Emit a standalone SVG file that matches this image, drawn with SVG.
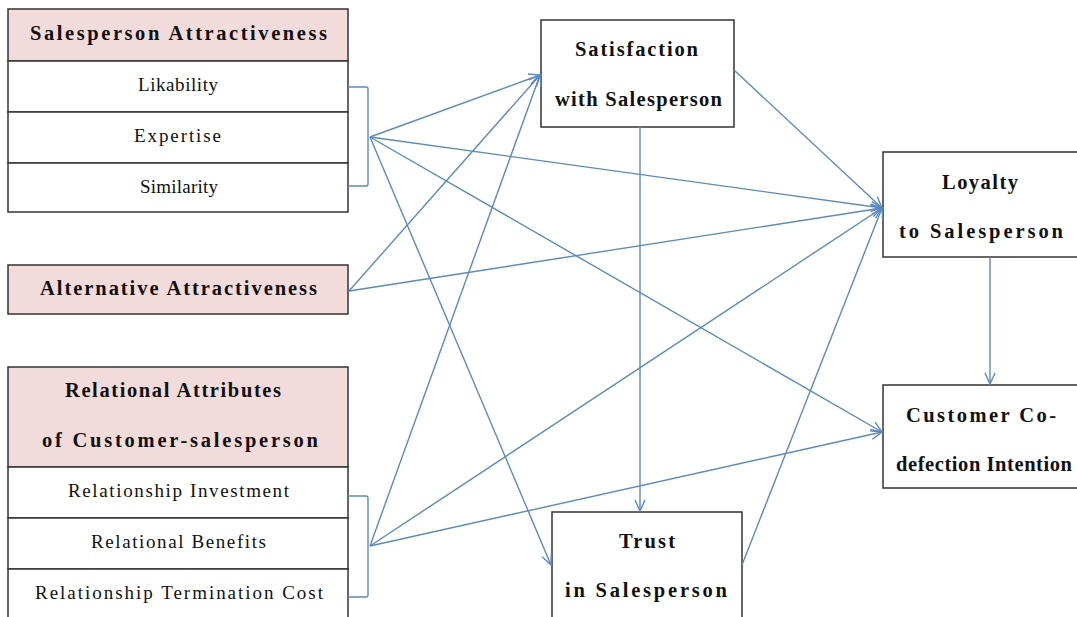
<svg xmlns="http://www.w3.org/2000/svg" width="1077" height="617" viewBox="0 0 1077 617">
<style>
.box{fill:#ffffff;stroke:#333333;stroke-width:1.5}
.hdr{fill:#f2dcdb;stroke:#333333;stroke-width:1.5}
.b{font-family:"Liberation Serif","DejaVu Serif",serif;font-weight:bold;font-size:20.5px;fill:#111}
.r{font-family:"Liberation Serif","DejaVu Serif",serif;font-size:19px;fill:#111}
.c{fill:none;stroke:#5b89c4;stroke-width:1.4}
</style>
<defs>
<marker id="arr" markerUnits="userSpaceOnUse" markerWidth="14" markerHeight="14" refX="12" refY="6" orient="auto" viewBox="0 0 14 12">
<path d="M1,1 L12,6 L1,11" fill="none" stroke="#5b89c4" stroke-width="1.4"/>
</marker>
</defs>
<rect width="1077" height="617" fill="#ffffff"/>
<g id="salesperson-attractiveness">
<rect class="hdr" x="8" y="9" width="340" height="52"/>
<rect class="box" x="8" y="61" width="340" height="51"/>
<rect class="box" x="8" y="112" width="340" height="51"/>
<rect class="box" x="8" y="163" width="340" height="49"/>
<text class="b" x="30" y="40" textLength="297" lengthAdjust="spacing">Salesperson Attractiveness</text>
<text class="r" x="138" y="91" textLength="80" lengthAdjust="spacing">Likability</text>
<text class="r" x="134" y="142" textLength="87" lengthAdjust="spacing">Expertise</text>
<text class="r" x="140" y="193" textLength="78" lengthAdjust="spacing">Similarity</text>
</g>
<g id="alternative-attractiveness">
<rect class="hdr" x="8" y="265" width="340" height="49"/>
<text class="b" x="40" y="295" textLength="277" lengthAdjust="spacing">Alternative Attractiveness</text>
</g>
<g id="relational-attributes">
<rect class="hdr" x="8" y="367" width="340" height="100"/>
<rect class="box" x="8" y="467" width="340" height="51"/>
<rect class="box" x="8" y="518" width="340" height="51"/>
<rect class="box" x="8" y="569" width="340" height="60"/>
<text class="b" x="65" y="397" textLength="216" lengthAdjust="spacing">Relational Attributes</text>
<text class="b" x="42" y="447" textLength="276" lengthAdjust="spacing">of Customer-salesperson</text>
<text class="r" x="68" y="497" textLength="221" lengthAdjust="spacing">Relationship Investment</text>
<text class="r" x="91" y="548" textLength="175" lengthAdjust="spacing">Relational Benefits</text>
<text class="r" x="35" y="599" textLength="288" lengthAdjust="spacing">Relationship Termination Cost</text>
</g>
<g id="satisfaction">
<rect class="box" x="541" y="20" width="193" height="107"/>
<text class="b" x="575" y="56" textLength="123" lengthAdjust="spacing">Satisfaction</text>
<text class="b" x="555" y="106" textLength="167" lengthAdjust="spacing">with Salesperson</text>
</g>
<g id="loyalty">
<rect class="box" x="883" y="152" width="200" height="105"/>
<text class="b" x="942" y="189" textLength="76" lengthAdjust="spacing">Loyalty</text>
<text class="b" x="899" y="238" textLength="164" lengthAdjust="spacing">to Salesperson</text>
</g>
<g id="codefection">
<rect class="box" x="883" y="385" width="200" height="103"/>
<text class="b" x="906" y="422" textLength="150" lengthAdjust="spacing">Customer Co-</text>
<text class="b" x="896" y="471" textLength="176" lengthAdjust="spacing">defection Intention</text>
</g>
<g id="trust">
<rect class="box" x="552" y="512" width="190" height="120"/>
<text class="b" x="619" y="548" textLength="56" lengthAdjust="spacing">Trust</text>
<text class="b" x="565" y="597" textLength="162" lengthAdjust="spacing">in Salesperson</text>
</g>
<g id="connectors">
<path class="c" d="M348,87 L366,87 Q368,87 368,89 L368,184 Q368,186 366,186 L348,186"/>
<path class="c" d="M348,496 L366,496 Q368,496 368,498 L368,595 Q368,597 366,597 L348,597"/>
<line class="c" x1="370" y1="137" x2="540" y2="75" marker-end="url(#arr)"/>
<line class="c" x1="370" y1="137" x2="882" y2="208" marker-end="url(#arr)"/>
<line class="c" x1="370" y1="137" x2="882" y2="432" marker-end="url(#arr)"/>
<line class="c" x1="370" y1="137" x2="551" y2="565" marker-end="url(#arr)"/>
<line class="c" x1="349" y1="291" x2="540" y2="75" marker-end="url(#arr)"/>
<line class="c" x1="349" y1="291" x2="882" y2="208" marker-end="url(#arr)"/>
<line class="c" x1="370" y1="546" x2="540" y2="75" marker-end="url(#arr)"/>
<line class="c" x1="370" y1="546" x2="882" y2="208" marker-end="url(#arr)"/>
<line class="c" x1="370" y1="546" x2="882" y2="432" marker-end="url(#arr)"/>
<line class="c" x1="734" y1="70" x2="882" y2="208" marker-end="url(#arr)"/>
<line class="c" x1="640" y1="127" x2="640" y2="511" marker-end="url(#arr)"/>
<line class="c" x1="742" y1="565" x2="882" y2="208" marker-end="url(#arr)"/>
<line class="c" x1="990" y1="257" x2="990" y2="384" marker-end="url(#arr)"/>
</g>
</svg>
